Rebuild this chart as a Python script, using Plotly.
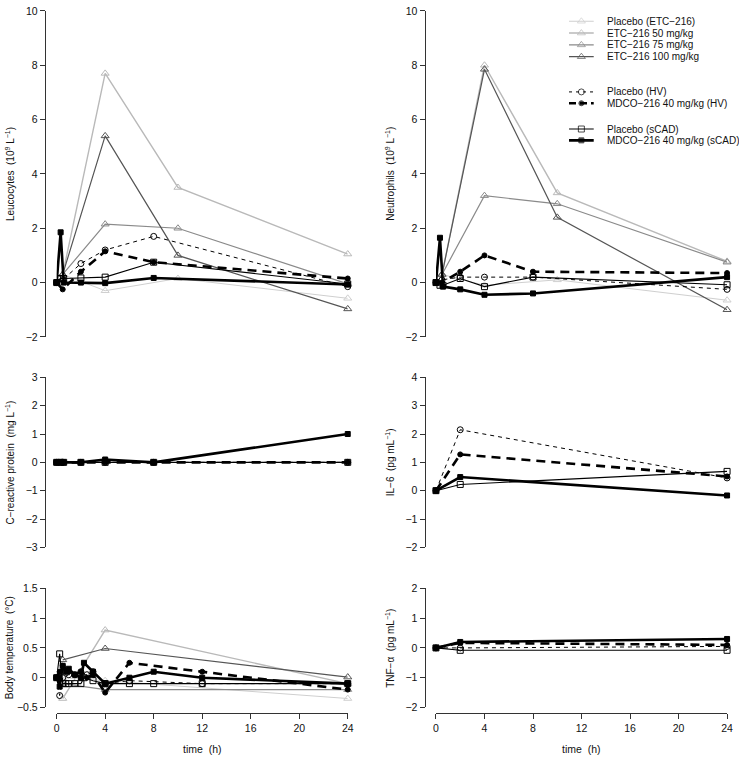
import plotly.graph_objects as go

# ---------------- data ----------------
T_ETC = [0.5, 4, 10, 24]
T_HV = [0, 0.5, 2, 4, 8, 24]
T_SCAD = [0, 0.33, 0.58, 2, 4, 8, 24]
T_CYT = [0, 2, 24]
T_ETC_BT = [0.5, 4, 24]
T_HV_BT = [0, 0.25, 0.5, 1, 1.5, 2, 2.5, 3, 4, 6, 12, 24]
T_SCAD_BT = [0, 0.25, 0.5, 0.75, 1, 1.5, 2, 2.25, 3, 4, 6, 8, 12, 24]

SERIES_NAMES = ["Placebo (ETC\u2212216)", "ETC\u2212216 50 mg/kg", "ETC\u2212216 75 mg/kg",
                "ETC\u2212216 100 mg/kg", "Placebo (HV)", "MDCO\u2212216 40 mg/kg (HV)",
                "Placebo (sCAD)", "MDCO\u2212216 40 mg/kg (sCAD)"]

# Leucocytes
LEU_ETC_PLA = [0.3, -0.3, 0.15, -0.58]
LEU_ETC_50 = [0.3, 7.7, 3.5, 1.05]
LEU_ETC_75 = [0.3, 2.15, 2.0, -0.05]
LEU_ETC_100 = [0.3, 5.4, 1.0, -0.97]
LEU_HV_PLA = [0, 0.1, 0.7, 1.2, 1.7, -0.15]
LEU_HV_MDCO = [0, -0.25, 0.4, 1.15, 0.75, 0.15]
LEU_SCAD_PLA = [0, 0.15, 0.15, 0.17, 0.2, 0.75, -0.05]
LEU_SCAD_MDCO = [0, 1.85, 0, 0, -0.02, 0.17, -0.07]

# Neutrophils
NEU_ETC_PLA = [0.3, -0.1, 0.1, -0.65]
NEU_ETC_50 = [0.3, 8.0, 3.3, 0.78]
NEU_ETC_75 = [0.3, 3.2, 2.9, 0.75]
NEU_ETC_100 = [0.3, 7.85, 2.4, -1.0]
NEU_HV_PLA = [0, 0.1, 0.2, 0.2, 0.2, -0.25]
NEU_HV_MDCO = [0, 0.0, 0.4, 1.0, 0.4, 0.35]
NEU_SCAD_PLA = [0, -0.1, -0.1, 0.15, -0.15, 0.2, -0.08]
NEU_SCAD_MDCO = [0, 1.65, -0.15, -0.25, -0.45, -0.4, 0.2]

# C-reactive protein
CRP_HV_PLA = [0, 0, 0, 0, 0, 0]
CRP_HV_MDCO = [0, 0, 0, 0, 0, 0]
CRP_SCAD_PLA = [0, 0, 0, 0, 0, 0, 0]
CRP_SCAD_MDCO = [0, 0, 0, 0, 0.1, 0, 1.0]

# IL-6
IL6_HV_PLA = [0, 2.15, 0.45]
IL6_HV_MDCO = [0, 1.28, 0.5]
IL6_SCAD_PLA = [0, 0.22, 0.68]
IL6_SCAD_MDCO = [0, 0.48, -0.17]

# Body temperature
BT_ETC_PLA = [0.0, -0.05, -0.35]
BT_ETC_50 = [-0.35, 0.8, -0.1]
BT_ETC_75 = [-0.1, -0.2, -0.2]
BT_ETC_100 = [0.3, 0.49, 0.01]
BT_HV_PLA = [0, -0.3, 0.0, 0.05, 0.05, 0.1, 0.05, 0.1, -0.1, -0.05, -0.1, -0.1]
BT_HV_MDCO = [0, 0.1, 0.2, 0.1, 0.05, 0.1, 0.0, 0.05, -0.25, 0.25, 0.1, -0.2]
BT_SCAD_PLA = [0, 0.4, -0.1, -0.1, -0.1, -0.1, -0.1, 0.0, -0.05, -0.1, -0.1, -0.1, -0.1, -0.1]
BT_SCAD_MDCO = [0, -0.15, 0.2, 0.1, 0.15, 0.05, 0.0, 0.25, 0.1, -0.1, 0.0, 0.1, 0.0, -0.1]

# TNF-alpha
TNF_HV_PLA = [0, 0.0, 0.05]
TNF_HV_MDCO = [0, 0.17, 0.1]
TNF_SCAD_PLA = [0, -0.08, -0.08]
TNF_SCAD_MDCO = [0, 0.2, 0.3]

X_TICKS = [0, 4, 8, 12, 16, 20, 24]
Y_LABELS = ["Leucocytes\u00a0 (10<sup>9</sup> L<sup>\u22121</sup>)",
            "Neutrophils\u00a0 (10<sup>9</sup> L<sup>\u22121</sup>)",
            "C\u2212reactive protein\u00a0 (mg L<sup>\u22121</sup>)",
            "IL\u22126\u00a0 (pg mL<sup>\u22121</sup>)",
            "Body temperature\u00a0 (\u00b0C)",
            "TNF\u2212\u03b1\u00a0 (pg mL<sup>\u22121</sup>)"]
Y_TICKS = [[-2, 0, 2, 4, 6, 8, 10], [-2, 0, 2, 4, 6, 8, 10], [-3, -2, -1, 0, 1, 2, 3],
           [-2, -1, 0, 1, 2, 3, 4], [-0.5, 0, 0.5, 1, 1.5], [-2, -1, 0, 1, 2]]

# ---------------- styles ----------------
STYLES = [
    dict(color="#cfcfcf", width=1.0, dash="solid", symbol="triangle-up-open", size=7),
    dict(color="#b9b9b9", width=1.4, dash="solid", symbol="triangle-up-open", size=7),
    dict(color="#8a8a8a", width=1.2, dash="solid", symbol="triangle-up-open", size=7),
    dict(color="#555555", width=1.2, dash="solid", symbol="triangle-up-open", size=7),
    dict(color="#000000", width=1.0, dash="4px,4px", symbol="circle-open", size=6),
    dict(color="#000000", width=2.6, dash="9px,6px", symbol="circle", size=5),
    dict(color="#000000", width=1.1, dash="solid", symbol="square-open", size=6),
    dict(color="#000000", width=2.6, dash="solid", symbol="square", size=5),
]

W, H = 739, 761
def fx(p):
    return p / W
def fy(p):
    return 1 - p / H

# panel geometry (pixels)
XCOL = [(54.3, 349.0), (438.3, 733.0)]
YAXLINE = [42.3, 426.7]
ROWS = [(5.0, 336.2), (377.3, 550.0), (591.7, 712.7)]
YRANGES = [(-2, 10), (-2, 10), (-3, 3), (-2, 4), (-0.5, 1.5), (-2, 2)]
XLINE_Y = 718.3

fig = go.Figure()

panels = [
    [(0, T_ETC, LEU_ETC_PLA), (1, T_ETC, LEU_ETC_50), (2, T_ETC, LEU_ETC_75), (3, T_ETC, LEU_ETC_100),
     (4, T_HV, LEU_HV_PLA), (5, T_HV, LEU_HV_MDCO), (6, T_SCAD, LEU_SCAD_PLA), (7, T_SCAD, LEU_SCAD_MDCO)],
    [(0, T_ETC, NEU_ETC_PLA), (1, T_ETC, NEU_ETC_50), (2, T_ETC, NEU_ETC_75), (3, T_ETC, NEU_ETC_100),
     (4, T_HV, NEU_HV_PLA), (5, T_HV, NEU_HV_MDCO), (6, T_SCAD, NEU_SCAD_PLA), (7, T_SCAD, NEU_SCAD_MDCO)],
    [(4, T_HV, CRP_HV_PLA), (5, T_HV, CRP_HV_MDCO), (6, T_SCAD, CRP_SCAD_PLA), (7, T_SCAD, CRP_SCAD_MDCO)],
    [(4, T_CYT, IL6_HV_PLA), (5, T_CYT, IL6_HV_MDCO), (6, T_CYT, IL6_SCAD_PLA), (7, T_CYT, IL6_SCAD_MDCO)],
    [(0, T_ETC_BT, BT_ETC_PLA), (1, T_ETC_BT, BT_ETC_50), (2, T_ETC_BT, BT_ETC_75), (3, T_ETC_BT, BT_ETC_100),
     (4, T_HV_BT, BT_HV_PLA), (5, T_HV_BT, BT_HV_MDCO), (6, T_SCAD_BT, BT_SCAD_PLA), (7, T_SCAD_BT, BT_SCAD_MDCO)],
    [(4, T_CYT, TNF_HV_PLA), (5, T_CYT, TNF_HV_MDCO), (6, T_CYT, TNF_SCAD_PLA), (7, T_CYT, TNF_SCAD_MDCO)],
]

FONT = "Liberation Sans, Arial, Helvetica, sans-serif"
AX = "#333333"

layout = dict(width=W, height=H, margin=dict(l=0, r=0, t=0, b=0),
              paper_bgcolor="white", plot_bgcolor="rgba(0,0,0,0)", showlegend=False,
              font=dict(family=FONT, size=10, color="#111111"))
annotations = []

for i, series in enumerate(panels):
    n = i + 1
    col = i % 2
    row = i // 2
    xs = "x" if n == 1 else f"x{n}"
    ys = "y" if n == 1 else f"y{n}"
    for idx, t, v in series:
        st = STYLES[idx]
        fig.add_trace(go.Scatter(
            x=t, y=v, xaxis=xs, yaxis=ys, mode="lines+markers", name=SERIES_NAMES[idx],
            cliponaxis=False,
            line=dict(color=st["color"], width=st["width"], dash=st["dash"]),
            marker=dict(symbol=st["symbol"], size=st["size"], color=st["color"],
                        line=dict(color=st["color"], width=1))))
    xa = dict(domain=[fx(XCOL[col][0]), fx(XCOL[col][1])], range=[0, 24],
              showgrid=False, zeroline=False, anchor=ys)
    if row == 2:
        xa.update(anchor="free", position=fy(XLINE_Y), showline=True, linecolor=AX, linewidth=1,
                  ticks="outside", ticklen=5, tickwidth=1, tickcolor=AX,
                  tickvals=X_TICKS, ticktext=[str(v) for v in X_TICKS],
                  tickfont=dict(size=10.5, color="#111111"))
    else:
        xa.update(visible=False)
    yr = YRANGES[i]
    tv = Y_TICKS[i]
    tt = [(("\u2212" if v < 0 else "") + (f"{abs(v):g}")) for v in tv]
    ya = dict(domain=[fy(ROWS[row][1]), fy(ROWS[row][0])], range=list(yr),
              anchor="free", position=fx(YAXLINE[col]), showline=True, linecolor=AX, linewidth=1,
              ticks="outside", ticklen=5, tickwidth=1, tickcolor=AX, showgrid=False, zeroline=False,
              tickvals=tv, ticktext=tt, tickfont=dict(size=10.5, color="#111111"))
    layout["xaxis" if n == 1 else f"xaxis{n}"] = xa
    layout["yaxis" if n == 1 else f"yaxis{n}"] = ya
    annotations.append(dict(text=Y_LABELS[i], xref="paper", yref="paper",
                            x=fx(YAXLINE[col] - 35), y=fy((ROWS[row][0] + ROWS[row][1]) / 2),
                            xanchor="center", yanchor="middle", textangle=-90, showarrow=False,
                            font=dict(size=10, color="#111111")))
    if row == 2:
        annotations.append(dict(text="time\u00a0 (h)", xref="paper", yref="paper",
                                x=fx((XCOL[col][0] + XCOL[col][1]) / 2), y=fy(755),
                                xanchor="center", yanchor="middle", showarrow=False,
                                font=dict(size=10.5, color="#111111")))

# ---------------- legend (drawn in its own pixel-space subplot) ----------------
LEG_ROWS = [15.5, 27.5, 39.5, 51.5, 87.3, 98.8, 125.0, 136.5]
LX0, LX1, LTX = 573, 598, 609
for idx in range(8):
    st = STYLES[idx]
    yy = LEG_ROWS[idx]
    fig.add_trace(go.Scatter(
        x=[LX0, (LX0 + LX1) / 2, LX1], y=[yy, yy, yy], xaxis="x7", yaxis="y7",
        mode="lines+markers", cliponaxis=False, hoverinfo="skip",
        line=dict(color=st["color"], width=st["width"],
                  dash=("3px,4px" if idx == 4 else ("7px,4px" if idx == 5 else "solid"))),
        marker=dict(symbol=st["symbol"], size=[0, st["size"], 0], color=st["color"],
                    line=dict(color=st["color"], width=1))))
    annotations.append(dict(text=SERIES_NAMES[idx], xref="x7", yref="y7", x=LTX, y=yy,
                            xanchor="left", yanchor="middle", showarrow=False,
                            font=dict(size=10, color="#111111")))
layout["xaxis7"] = dict(domain=[fx(560), 1], range=[560, 739], visible=False, anchor="y7")
layout["yaxis7"] = dict(domain=[fy(150), 1], range=[150, 0], visible=False, anchor="x7")
layout["annotations"] = annotations

fig.update_layout(**layout)
fig.write_html("out.html", config={"displayModeBar": False},
               post_script="document.body.style.margin='0';document.body.style.overflow='hidden';")
